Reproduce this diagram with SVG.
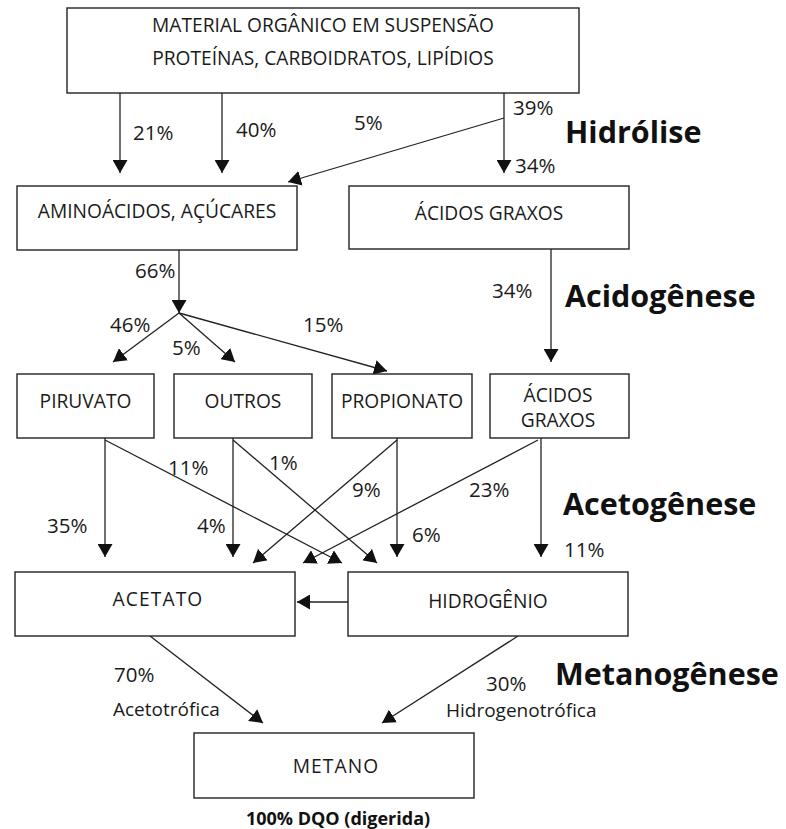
<svg xmlns="http://www.w3.org/2000/svg" width="786" height="829" viewBox="0 0 786 829">
<defs>
<marker id="ah" markerUnits="userSpaceOnUse" markerWidth="13" markerHeight="15" viewBox="0 0 13 15" refX="13" refY="7.5" orient="auto">
<path d="M0,0 L13,7.5 L0,15 z" fill="#111"/>
</marker>
<style>
.box{fill:#fff;stroke:#222;stroke-width:1.4}
.t{font-family:"Open Sans","Noto Sans",sans-serif;font-size:19.2px;fill:#1a1a1a;text-anchor:middle}
.sp{letter-spacing:1.1px}
.p{font-family:"Open Sans","Noto Sans",sans-serif;font-size:20.5px;fill:#1a1a1a}
.w{font-family:"Open Sans","Noto Sans",sans-serif;font-size:19px;fill:#1a1a1a}
.h{font-family:"Open Sans","Noto Sans",sans-serif;font-size:30.5px;font-weight:bold;fill:#111}
.c{fill:none;stroke:#222;stroke-width:1.3}
.a{marker-end:url(#ah)}
</style>
</defs>
<rect width="786" height="829" fill="#fff"/>

<g id="connectors">
<line class="c a" x1="120" y1="93" x2="120" y2="173"/>
<line class="c a" x1="222" y1="93" x2="222" y2="173"/>
<line class="c a" x1="504" y1="93" x2="504" y2="173"/>
<line class="c a" x1="504" y1="118" x2="288" y2="182"/>
<line class="c a" x1="179" y1="250" x2="179" y2="313"/>
<line class="c a" x1="179" y1="313" x2="113" y2="362"/>
<line class="c a" x1="179" y1="313" x2="235" y2="362"/>
<line class="c a" x1="179" y1="313" x2="387" y2="371"/>
<line class="c a" x1="551" y1="249" x2="551" y2="362"/>
<line class="c a" x1="105" y1="438" x2="105" y2="557"/>
<line class="c a" x1="105" y1="440" x2="342" y2="563"/>
<line class="c a" x1="233" y1="438" x2="233" y2="557"/>
<line class="c a" x1="233" y1="440" x2="377" y2="563"/>
<line class="c a" x1="397" y1="440" x2="253" y2="563"/>
<line class="c a" x1="397" y1="438" x2="397" y2="557"/>
<line class="c a" x1="538" y1="440" x2="303" y2="563"/>
<line class="c a" x1="541" y1="438" x2="541" y2="557"/>
<line class="c a" x1="348" y1="602" x2="297" y2="602"/>
<line class="c a" x1="150" y1="636" x2="263" y2="723"/>
<line class="c a" x1="518" y1="636" x2="382" y2="723"/>
</g>

<g id="material">
<rect class="box" x="67" y="8" width="512" height="85"/>
<text class="t" x="323" y="32">MATERIAL ORGÂNICO EM SUSPENSÃO</text>
<text class="t" x="323" y="65">PROTEÍNAS, CARBOIDRATOS, LIPÍDIOS</text>
</g>
<g id="aminoacidos">
<rect class="box" x="17" y="186" width="280" height="64"/>
<text class="t" x="157" y="218">AMINOÁCIDOS, AÇÚCARES</text>
</g>
<g id="acidos-graxos-1">
<rect class="box" x="349" y="186" width="280" height="63"/>
<text class="t" x="489" y="220">ÁCIDOS GRAXOS</text>
</g>
<g id="piruvato">
<rect class="box" x="17" y="374" width="137" height="64"/>
<text class="t" x="85.5" y="408">PIRUVATO</text>
</g>
<g id="outros">
<rect class="box" x="174" y="374" width="138" height="64"/>
<text class="t" x="243" y="408">OUTROS</text>
</g>
<g id="propionato">
<rect class="box" x="332" y="374" width="140" height="64"/>
<text class="t" x="402" y="408">PROPIONATO</text>
</g>
<g id="acidos-graxos-2">
<rect class="box" x="490" y="374" width="139" height="64"/>
<text class="t" x="558" y="402">ÁCIDOS</text>
<text class="t" x="558" y="427">GRAXOS</text>
</g>
<g id="acetato">
<rect class="box" x="15" y="572" width="280" height="64"/>
<text class="t sp" x="158" y="606" font-size="16">ACETATO</text>
</g>
<g id="hidrogenio">
<rect class="box" x="348" y="572" width="280" height="64"/>
<text class="t" x="488" y="608">HIDROGÊNIO</text>
</g>
<g id="metano">
<rect class="box" x="194" y="733" width="280" height="65"/>
<text class="t sp" x="336" y="773" font-size="16">METANO</text>
</g>

<g id="labels">
<text class="p" x="133" y="140">21%</text>
<text class="p" x="236" y="137">40%</text>
<text class="p" x="354" y="130" font-size="18">5%</text>
<text class="p" x="513" y="115">39%</text>
<text class="p" x="515" y="173">34%</text>
<text class="p" x="135" y="278">66%</text>
<text class="p" x="110" y="332">46%</text>
<text class="p" x="172" y="355">5%</text>
<text class="p" x="303" y="332">15%</text>
<text class="p" x="492" y="298">34%</text>
<text class="p" x="168" y="475">11%</text>
<text class="p" x="269" y="470">1%</text>
<text class="p" x="352" y="497">9%</text>
<text class="p" x="47" y="533">35%</text>
<text class="p" x="197" y="533">4%</text>
<text class="p" x="469" y="497">23%</text>
<text class="p" x="412" y="542">6%</text>
<text class="p" x="564" y="557">11%</text>
<text class="p" x="114" y="682">70%</text>
<text class="w" x="113" y="716">Acetotrófica</text>
<text class="p" x="486" y="691">30%</text>
<text class="w" x="446" y="717">Hidrogenotrófica</text>
<text class="h" x="565" y="143">Hidrólise</text>
<text class="h" x="565" y="307">Acidogênese</text>
<text class="h" x="563" y="515">Acetogênese</text>
<text class="h" x="555" y="685">Metanogênese</text>
<text x="338" y="825" font-family="'Open Sans','Noto Sans',sans-serif" font-size="18" font-weight="bold" fill="#111" text-anchor="middle">100% DQO (digerida)</text>
</g>
</svg>
